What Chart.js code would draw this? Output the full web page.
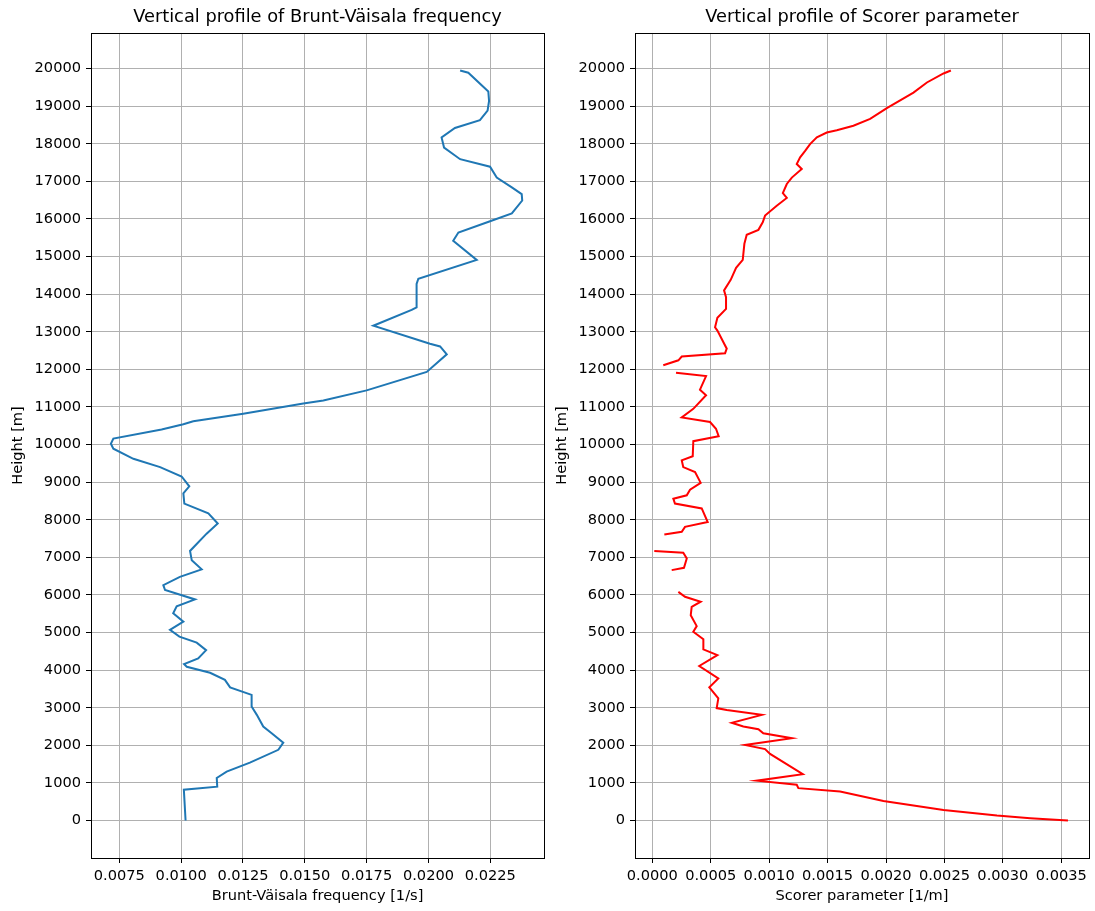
<!DOCTYPE html>
<html>
<head>
<meta charset="utf-8">
<title>Vertical profiles</title>
<script src="https://cdn.jsdelivr.net/npm/chart.js@4/dist/chart.umd.min.js"></script>
<style>
  body { margin: 0; background: #fff; }
  #wrap { position: relative; width: 1095px; height: 911px; }
  canvas { position: absolute; top: 0; }
</style>
</head>
<body>
<div id="wrap">
  <canvas id="bv-chart" width="548" height="911" style="left:0"></canvas>
  <canvas id="scorer-chart" width="547" height="911" style="left:548px"></canvas>
</div>
<script>
// Height ticks shared by both panels
const heightTicks = [0, 1000, 2000, 3000, 4000, 5000, 6000, 7000, 8000, 9000, 10000,
  11000, 12000, 13000, 14000, 15000, 16000, 17000, 18000, 19000, 20000];
const heightMin = -997.5;
const heightMax = 20947.5;

// Brunt-Väisälä frequency profile
const bvHeights = [19950, 19890, 19390, 19140, 18880, 18630, 18420, 18170, 17900, 17590,
  17390, 17100, 16840, 16660, 16490, 16150, 15940, 15640, 15420, 14910,
  14410, 14270, 13650, 13580, 13160, 12680, 12610, 12400, 11930, 11440,
  11170, 11090, 10820, 10620, 10540, 10400, 10160, 10020, 9890, 9620,
  9400, 9150, 8890, 8700, 8430, 8170, 7900, 7630, 7170, 6920,
  6680, 6480, 6260, 6130, 5880, 5700, 5510, 5290, 5070, 4890,
  4730, 4530, 4310, 4160, 4090, 3930, 3740, 3540, 3340, 3030,
  2810, 2500, 2320, 2070, 1880, 1540, 1300, 1130, 900, 820, 0];
const bvFreq = [0.02128, 0.02161, 0.02242, 0.02245, 0.02239, 0.02208, 0.02107, 0.02053, 0.02063, 0.02128,
  0.02249, 0.02276, 0.02337, 0.02377, 0.02379, 0.02337, 0.02249, 0.02121, 0.02100, 0.02195,
  0.01959, 0.01952, 0.01952, 0.01932, 0.01777, 0.02006, 0.02047, 0.02074, 0.01993, 0.01750,
  0.01575, 0.01494, 0.01251, 0.01049, 0.01009, 0.00921, 0.00726, 0.00716, 0.00726, 0.00807,
  0.00915, 0.01002, 0.01033, 0.01009, 0.01013, 0.01110, 0.01148, 0.01103, 0.01036, 0.01043,
  0.01083, 0.00995, 0.00928, 0.00935, 0.01056, 0.00982, 0.00968, 0.01009, 0.00955, 0.00993,
  0.01063, 0.01101, 0.01069, 0.01012, 0.01023, 0.01117, 0.01177, 0.01198, 0.01285, 0.01285,
  0.01306, 0.01332, 0.01366, 0.01413, 0.01393, 0.01278, 0.01184, 0.01144, 0.01146, 0.01011, 0.01018];
const bvTicks = [0.0075, 0.0100, 0.0125, 0.0150, 0.0175, 0.0200, 0.0225];

// Scorer parameter profile (null = no value, line is broken there)
const scHeights = [19950, 19870, 19630, 19360, 18950, 18660, 18480, 18360, 18300, 18170,
  17990, 17810, 17640, 17460, 17330, 17100, 16930, 16690, 16560, 16350,
  16090, 15910, 15710, 15580, 15340, 14910, 14700, 14380, 14100, 13920,
  13610, 13370, 13120, 13030, 12550, 12430, 12340, 12240, 12110, 12000,
  11910, 11820, 11460, 11310, 10950, 10720, 10600, 10420, 10220, 10090,
  9690, 9580, 9400, 9270, 8980, 8800, 8650, 8560, 8430, 8300,
  7940, 7810, 7680, 7610, 7400, 7170, 7120, 6970, 6720, 6660,
  6400, 6080, 5950, 5820, 5680, 5460, 5170, 5020, 4820, 4550,
  4400, 4110, 3780, 3540, 3250, 2990, 2940, 2810, 2600, 2500,
  2430, 2320, 2190, 2010, 1900, 1770, 1230, 1060, 950, 860,
  770, 520, 280, 130, 60, 0];
const scValues = [0.002555, 0.002492, 0.002350, 0.002235, 0.002007, 0.001864, 0.001721, 0.001579, 0.001493, 0.001408,
  0.001350, 0.001308, 0.001265, 0.001236, 0.001279, 0.001194, 0.001151, 0.001117, 0.001151, 0.001065,
  0.000965, 0.000945, 0.000908, 0.000808, 0.000788, 0.000774, 0.000717, 0.000671, 0.000614, 0.000631,
  0.000631, 0.000557, 0.000537, 0.000557, 0.000637, 0.000623, 0.000252, 0.000223, 0.000094, null,
  0.000203, 0.000460, 0.000408, 0.000460, 0.000351, 0.000252, 0.000494, 0.000545, 0.000568, 0.000351,
  0.000346, 0.000252, 0.000265, 0.000366, 0.000414, 0.000323, 0.000295, 0.000180, 0.000194, 0.000423,
  0.000474, 0.000280, 0.000252, 0.000103, null, 0.000017, 0.000265, 0.000295, 0.000271, 0.000166,
  null, 0.000223, 0.000280, 0.000414, 0.000337, 0.000329, 0.000380, 0.000351, 0.000437, 0.000437,
  0.000557, 0.000402, 0.000565, 0.000488, 0.000565, 0.000551, 0.000637, 0.000937, 0.000680, 0.000779,
  0.000908, 0.000950, 0.001194, 0.000794, 0.000965, 0.001008, 0.001288, 0.000894, 0.001236, 0.001250,
  0.001607, 0.001978, 0.002492, 0.002949, 0.003234, 0.003557];
const scTicks = [0.0000, 0.0005, 0.0010, 0.0015, 0.0020, 0.0025, 0.0030, 0.0035];

Chart.defaults.font.family = "'DejaVu Sans', sans-serif";
Chart.defaults.color = '#000';

// black box around the plot area, like matplotlib spines
const framePlugin = {
  id: 'frame',
  afterDraw(chart) {
    const a = chart.chartArea;
    const ctx = chart.ctx;
    ctx.save();
    ctx.strokeStyle = '#000';
    ctx.lineWidth = 1;
    ctx.strokeRect(Math.round(a.left) + 0.5, Math.round(a.top) + 0.5,
      Math.round(a.right - a.left), Math.round(a.bottom - a.top));
    ctx.restore();
  }
};

function toPoints(xs, heights) {
  return heights.map((h, i) => ({ x: xs[i], y: h }));
}

function profileChart(id, cfg) {
  const grid = { color: '#b0b0b0', lineWidth: 1, tickLength: 5, tickColor: '#000', drawTicks: true };
  const labelFont = { size: 14.6 };
  return new Chart(document.getElementById(id), {
    type: 'scatter',
    data: {
      datasets: [{
        data: cfg.points,
        borderColor: cfg.color,
        borderWidth: 2,
        showLine: true,
        spanGaps: false,
        pointRadius: 0,
        pointHoverRadius: 0,
        tension: 0
      }]
    },
    options: {
      responsive: false,
      animation: false,
      events: [],
      layout: { padding: { top: 0, right: cfg.padRight, bottom: 0, left: 0 } },
      plugins: {
        legend: { display: false },
        tooltip: { enabled: false },
        title: {
          display: true,
          text: cfg.title,
          fullSize: false,
          color: '#000',
          font: { size: 17.8, weight: 'normal' },
          padding: { top: 7, bottom: 4.6 }
        }
      },
      scales: {
        x: {
          type: 'linear',
          min: cfg.xMin,
          max: cfg.xMax,
          afterBuildTicks: (scale) => { scale.ticks = cfg.xTicks.map(v => ({ value: v })); },
          afterFit: (scale) => { scale.height = 53; },
          grid: grid,
          border: { display: false },
          ticks: {
            font: labelFont,
            color: '#000',
            padding: 4,
            autoSkip: false,
            maxRotation: 0,
            callback: (v) => v.toFixed(4)
          },
          title: {
            display: true,
            text: cfg.xLabel,
            color: '#000',
            font: labelFont,
            padding: { top: 0, bottom: 6 }
          }
        },
        y: {
          type: 'linear',
          min: heightMin,
          max: heightMax,
          afterBuildTicks: (scale) => { scale.ticks = heightTicks.map(v => ({ value: v })); },
          afterFit: (scale) => { scale.width = cfg.yAxisWidth; },
          grid: grid,
          border: { display: false },
          ticks: {
            font: labelFont,
            color: '#000',
            padding: 5,
            autoSkip: false,
            callback: (v) => String(v)
          },
          title: {
            display: true,
            text: 'Height [m]',
            color: '#000',
            font: labelFont,
            padding: { top: cfg.yTitlePad, bottom: 0 }
          }
        }
      }
    },
    plugins: [framePlugin]
  });
}

document.addEventListener('DOMContentLoaded', function() {
  profileChart('bv-chart', {
    points: toPoints(bvFreq, bvHeights),
    color: '#1f77b4',
    title: 'Vertical profile of Brunt-Väisala frequency',
    xLabel: 'Brunt-Väisala frequency [1/s]',
    xTicks: bvTicks,
    xMin: 0.006356,
    xMax: 0.024671,
    yAxisWidth: 91,
    yTitlePad: 9,
    padRight: 4
  });

  profileChart('scorer-chart', {
    points: toPoints(scValues, scHeights),
    color: '#ff0000',
    title: 'Vertical profile of Scorer parameter',
    xLabel: 'Scorer parameter [1/m]',
    xTicks: scTicks,
    xMin: -0.000148,
    xMax: 0.003737,
    yAxisWidth: 87,
    yTitlePad: 5,
    padRight: 6
  });
});
</script>
</body>
</html>
